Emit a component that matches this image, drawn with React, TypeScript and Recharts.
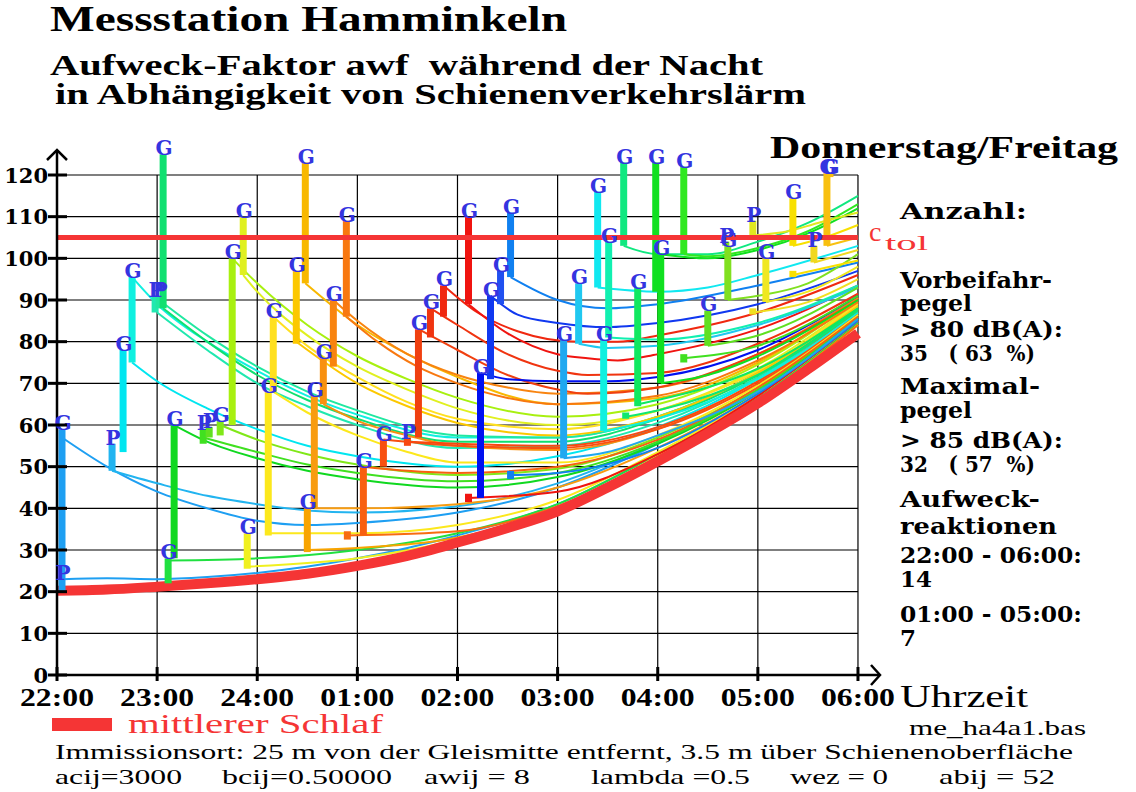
import React from "react";
import { ComposedChart, Line, Scatter, XAxis, YAxis } from "recharts";

// time axis: hours after 22:00
const hourTicks = [0, 1, 2, 3, 4, 5, 6, 7, 8];
const hourLabels = ["22:00", "23:00", "24:00", "01:00", "02:00", "03:00", "04:00", "05:00", "06:00"];
const yTicks = [0, 10, 20, 30, 40, 50, 60, 70, 80, 90, 100, 110, 120];
const gridLevels = [10, 20, 30, 40, 50, 60, 70, 80, 90, 100, 110, 120];
const cTol = 105;

// mittlerer Schlaf (thick red curve)
const meanSleep: [number, number][] = [
  [0, 20.2], [0.5, 20.5], [1, 21.2], [1.5, 22], [2, 23], [2.5, 24.3], [3, 26.2], [3.5, 28.6],
  [4, 31.8], [4.5, 35.3], [5, 39.3], [5.5, 45], [6, 51.3], [6.5, 58], [7, 65.2], [7.5, 73.4], [8, 82],
];

// events: [time, awf before, awf after, label]
const events: [number, number, number, string][] = [
  [0.05, 20, 23, "P"], [0.05, 23, 59, "G"], [0.55, 49, 55.5, "P"], [0.66, 53.5, 78, "G"],
  [0.75, 75, 95.5, "G"], [0.98, 87, 91, "P"], [1.02, 88, 91, "P"], [1.06, 88, 125, "G"],
  [1.11, 22, 28, "G"], [1.17, 28, 60, "G"], [1.46, 55.5, 59, "P"], [1.52, 57, 59.5, "P"],
  [1.63, 57.5, 61, "G"], [1.75, 60, 100, "G"], [1.86, 96, 110, "G"], [1.9, 25.5, 34, "G"],
  [2.11, 33.5, 68, "G"], [2.16, 68, 86, "G"], [2.39, 79.5, 97, "G"], [2.48, 94, 123, "G"],
  [2.5, 29.5, 40, "G"], [2.57, 40, 67, "G"], [2.66, 65, 76, "G"], [2.76, 74, 90, "G"],
  [2.89, 86, 109, "G"], [2.9, 32.5, 34.5, ""], [3.06, 33.5, 50, "G"], [3.26, 50, 56.5, "G"],
  [3.5, 55, 57, "P"], [3.61, 57, 83, "G"], [3.73, 81, 88, "G"], [3.86, 86, 93.5, "G"],
  [4.11, 89, 110, "G"], [4.11, 41.5, 43.5, ""], [4.23, 42.5, 72.5, "G"], [4.33, 71, 91, "G"],
  [4.43, 89, 97, "G"], [4.53, 95.5, 111, "G"], [4.53, 47, 49, ""], [5.06, 52, 80.5, "G"],
  [5.21, 79.5, 94, "G"], [5.4, 93, 116, "G"], [5.46, 58.5, 80.5, "G"], [5.51, 81, 104, "G"],
  [5.66, 103, 123, "G"], [5.68, 61.5, 63, ""], [5.8, 64.5, 93, "G"], [5.98, 92, 123, "G"],
  [6.03, 70, 101, "G"], [6.26, 75, 77, ""], [6.26, 101, 122, "G"], [6.5, 79, 87.5, "G"],
  [6.68, 103, 104, "P"], [6.7, 90, 103, "G"], [6.95, 105.5, 109, "P"], [6.95, 86.5, 88, ""],
  [7.08, 89.5, 100, "G"], [7.35, 95.5, 97, ""], [7.35, 103, 114.5, "G"], [7.56, 99, 103, "P"],
  [7.69, 103, 120.5, "G"], [7.72, 119.5, 120.5, "G"],
];

const eventColors = [
  "#1e9ff2", "#1e9ff2", "#22b4f0", "#00e6f0", "#10f0e0", "#20e8b0", "#20e8a0", "#10e070",
  "#20e040", "#10d820", "#40e020", "#60e020", "#80e818", "#a8f010", "#e0f020", "#f0f020",
  "#fce81c", "#ffe020", "#fcc800", "#f8b800", "#f8a400", "#f89c10", "#f89010", "#f88410",
  "#f87810", "#f86c10", "#f86010", "#f85010", "#f84810", "#f04010", "#f03410", "#f02810",
  "#f01410", "#f01410", "#0010f0", "#1038f0", "#2050f0", "#1080f0", "#1080f0", "#20a8f0",
  "#20c8f0", "#10e8f0", "#10f0e0", "#10f0b0", "#10e880", "#10e870", "#10e860", "#10e020",
  "#10e020", "#40e020", "#30e820", "#60e020", "#80e020", "#80e020", "#e0e820", "#f0e020",
  "#f0e820", "#f8e000", "#f8e000", "#f0d820", "#f8c010", "#f8c010",
];

// decay curves after each event: [event index, points]
const curves: [number, [number, number][]][] = [
  [0, [[0.05, 23], [0.5, 23.2], [1, 23], [1.5, 23.5], [2, 24.5], [3, 28], [4, 33.5], [5, 41], [6, 53], [7, 66.5], [8, 84.5]]],
  [1, [[0.05, 57], [0.5, 50], [1, 44], [1.5, 40], [2, 37], [2.5, 36], [3, 36.5], [4, 39], [5, 45], [6, 55.5], [7, 68.5], [8, 85.5]]],
  [2, [[0.55, 49], [1, 46], [1.5, 43], [2, 41], [2.5, 39.5], [3, 39], [4, 40.5], [5, 46], [6, 56], [7, 69], [8, 86]]],
  [3, [[0.75, 75], [1, 70.5], [1.5, 64], [2, 59], [2.5, 55], [3, 52.5], [4, 50], [5, 52.5], [6, 59.5], [7, 71], [8, 87]]],
  [4, [[0.75, 95.5], [1, 89], [1.5, 80], [2, 73], [2.5, 67], [3, 62.5], [4, 57], [5, 57], [6, 62], [7, 72.5], [8, 88]]],
  [5, [[1.0, 87], [1.5, 78], [2, 70], [2.5, 64.5], [3, 60], [4, 54.5], [5, 55], [6, 60.5], [7, 71.5], [8, 87.5]]],
  [6, [[1.02, 90], [1.5, 81.5], [2, 74], [2.5, 68], [3, 63.5], [4, 57.5], [5, 57], [6, 62], [7, 72.5], [8, 88.5]]],
  [7, [[1.06, 88], [1.5, 80], [2, 72], [2.5, 66], [3, 61.5], [4, 56], [5, 56], [6, 61.5], [7, 72], [8, 88]]],
  [8, [[1.11, 27.5], [2, 28], [3, 30], [4, 34], [5, 41], [6, 53], [7, 66.5], [8, 84.5]]],
  [9, [[1.17, 60], [1.5, 56], [2, 52], [2.5, 49], [3, 47], [4, 45], [5, 47.5], [6, 55.5], [7, 68], [8, 85.5]]],
  [10, [[1.46, 57], [2, 53.5], [2.5, 50.5], [3, 48.5], [4, 46.5], [5, 48.5], [6, 56], [7, 68.5], [8, 86]]],
  [12, [[1.63, 60], [2, 56.5], [2.5, 53], [3, 50.5], [4, 48], [5, 49.5], [6, 57], [7, 69], [8, 86.5]]],
  [13, [[1.75, 100], [2, 94], [2.5, 84], [3, 76.5], [3.5, 71], [4, 66.5], [5, 62], [6, 65], [7, 74.5], [8, 90]]],
  [14, [[1.86, 96], [2, 92], [2.5, 81.5], [3, 74], [3.5, 68.5], [4, 64], [5, 60], [6, 63.5], [7, 73.5], [8, 89.5]]],
  [15, [[1.9, 26], [3, 28], [4, 32.5], [5, 40], [6, 52.5], [7, 66], [8, 84]]],
  [16, [[2.11, 34], [3, 34], [4, 36], [5, 42], [6, 53.5], [7, 67], [8, 85]]],
  [16, [[2.16, 68], [2.5, 63], [3, 57.5], [3.5, 53.5], [4, 51], [5, 51], [6, 57.5], [7, 69.5], [8, 86.5]]],
  [17, [[2.16, 86], [2.5, 79], [3, 71.5], [3.5, 65.5], [4, 61.5], [5, 59], [6, 63.5], [7, 73], [8, 89]]],
  [18, [[2.39, 80], [3, 70], [3.5, 64.5], [4, 60.5], [5, 57.5], [6, 62], [7, 72.5], [8, 88.5]]],
  [19, [[2.48, 94], [3, 84], [3.5, 77], [4, 71.5], [5, 65], [6, 66.5], [7, 75], [8, 90.5]]],
  [20, [[2.5, 30], [3, 30.5], [4, 33], [5, 40], [6, 52], [7, 66], [8, 84]]],
  [21, [[2.57, 40], [3, 40], [4, 41], [5, 45], [6, 54.5], [7, 67.5], [8, 85]]],
  [22, [[2.66, 65], [3, 61], [3.5, 57.5], [4, 55], [5, 54], [6, 59], [7, 70.5], [8, 87]]],
  [23, [[2.76, 90], [3, 85], [3.5, 77], [4, 72], [4.5, 69], [5, 67.5], [6, 69], [7, 77], [8, 90.5]]],
  [24, [[2.89, 86], [3.2, 80], [3.6, 74], [4, 70], [4.5, 66.5], [5, 65], [6, 67], [7, 75.5], [8, 89.5]]],
  [25, [[2.9, 33.5], [4, 34.5], [5, 40.5], [6, 52], [7, 66], [8, 84]]],
  [26, [[3.06, 50], [3.5, 49], [4, 48.5], [5, 50], [6, 56.5], [7, 69], [8, 86]]],
  [27, [[3.26, 56.5], [4, 55], [5, 54.5], [6, 59], [7, 70], [8, 87]]],
  [28, [[3.5, 56], [4, 55.5], [5, 55], [6, 59.5], [7, 70.5], [8, 87.5]]],
  [29, [[3.61, 83], [4, 78], [4.5, 72], [5, 68.5], [5.3, 67.5], [6, 69], [7, 77], [8, 90]]],
  [30, [[3.73, 88], [4, 84], [4.5, 77], [5, 73], [5.3, 72], [6, 72.5], [7, 79.5], [8, 91.5]]],
  [31, [[3.86, 93.5], [4.2, 87], [4.6, 82.5], [5.2, 80], [5.6, 80], [6, 81.5], [7, 87], [8, 96]]],
  [32, [[4.11, 89], [4.5, 82], [5, 77], [5.3, 76], [5.6, 75.5], [6, 77], [7, 83], [8, 93.5]]],
  [33, [[4.11, 42.5], [5, 44], [6, 53], [7, 67], [8, 85]]],
  [34, [[4.23, 72.5], [4.5, 71], [5, 70.5], [5.5, 70.5], [6, 71.5], [7, 78], [8, 91]]],
  [35, [[4.33, 91], [4.6, 86.5], [5, 84.5], [5.5, 83.5], [6, 84.5], [7, 89], [8, 97]]],
  [37, [[4.53, 95.5], [5, 90], [5.5, 88], [6, 89], [7, 93.5], [8, 99]]],
  [38, [[4.53, 48], [5, 48.5], [6, 54.5], [7, 67.5], [8, 85]]],
  [39, [[5.06, 52], [5.5, 53.5], [6, 57.5], [7, 68], [8, 85.5]]],
  [40, [[5.21, 79.5], [5.5, 78.5], [6, 79], [7, 84], [8, 93]]],
  [41, [[5.4, 93], [6, 92], [6.5, 93], [7, 96], [8, 103]]],
  [42, [[5.46, 58.5], [6, 61.5], [7, 71], [8, 87]]],
  [43, [[5.51, 81], [6, 80.5], [7, 84.5], [8, 93.5]]],
  [44, [[5.66, 103], [6, 101], [6.5, 101], [7, 104], [7.5, 108.5], [8, 115]]],
  [45, [[5.68, 62], [6, 63.5], [7, 72], [8, 87.5]]],
  [46, [[5.8, 65], [6, 66], [7, 73.5], [8, 88]]],
  [48, [[6.03, 70], [6.5, 72], [7, 76.5], [8, 90]]],
  [48, [[6.03, 101], [6.5, 100], [7, 102], [7.5, 106], [8, 112]]],
  [49, [[6.26, 76], [7, 79], [8, 91]]],
  [50, [[6.26, 101], [6.5, 100.5], [7, 102.5], [7.5, 106.5], [8, 113]]],
  [51, [[6.5, 79], [7, 81.5], [8, 93]]],
  [53, [[6.7, 90], [7, 91], [7.5, 94], [8, 101]]],
  [54, [[6.95, 105.5], [7.3, 106.5], [7.6, 108.5], [8, 111]]],
  [55, [[6.95, 87], [7.5, 89.5], [8, 95]]],
  [56, [[7.08, 89.5], [7.5, 92], [8, 98]]],
  [57, [[7.35, 96], [8, 99.5]]],
  [58, [[7.35, 103], [7.6, 104.5], [8, 108]]],
  [59, [[7.56, 99], [8, 102]]],
  [60, [[7.69, 103], [8, 105]]],
];

const toRows = (pts: [number, number][]) => pts.map(([t, v]) => ({ t, v }));

const SERIF = "'Liberation Serif', serif";
const BOLDSERIF = "'DejaVu Serif', serif";
const LABEL_BLUE = "#3434e0";
const RED = "#f53535";

const labelRows = events.filter((e) => e[3] !== "").map(([t, , hi, label]) => ({ t, v: hi, label }));
const arrowRows = [{ t: 8.22, v: 0, dir: "r" }, { t: 0, v: 126, dir: "u" }];

const XTick = ({ x, y, payload }: any) => (
  <g>
    <line x1={x} x2={x} y1={y - 8} y2={y + 6} stroke="#000" strokeWidth={3} />
    <text x={x} y={y + 31} textAnchor="middle" fontFamily={SERIF} fontWeight="bold" fontSize={25}
      textLength={74} lengthAdjust="spacingAndGlyphs" fill="#000">
      {hourLabels[hourTicks.indexOf(payload.value)]}
    </text>
  </g>
);

const YTick = ({ x, y, payload }: any) => (
  <g>
    <line x1={x - 9} x2={x + 10} y1={y} y2={y} stroke="#000" strokeWidth={3} />
    <text x={x - 9} y={y} dy="0.36em" textAnchor="end" fontFamily={BOLDSERIF} fontWeight="bold"
      fontSize={21} fill="#000">
      {payload.value}
    </text>
  </g>
);

const EventLabel = ({ cx, cy, payload }: any) => (
  <text x={cx + 1} y={cy + 1} textAnchor="middle" fontFamily={BOLDSERIF} fontWeight="bold" fontSize={20}
    fill={LABEL_BLUE}>
    {payload.label}
  </text>
);

const Arrow = ({ cx, cy, payload }: any) =>
  payload.dir === "r" ? (
    <path d={`M${cx - 9},${cy - 10} L${cx},${cy} L${cx - 9},${cy + 10}`} fill="none" stroke="#000" strokeWidth={2.5} />
  ) : (
    <path d={`M${cx - 10},${cy + 10} L${cx},${cy} L${cx + 10},${cy + 10}`} fill="none" stroke="#000" strokeWidth={2.5} />
  );

const rightPanel: [string, number][] = [
  ["Anzahl:", 219], ["Vorbeifahr-", 288], ["pegel", 311], ["> 80 dB(A):", 337], ["35   ( 63  %)", 361],
  ["Maximal-", 394], ["pegel", 418], ["> 85 dB(A):", 448], ["32   ( 57  %)", 472],
  ["Aufweck-", 507], ["reaktionen", 534], ["22:00 - 06:00:", 563], ["14", 587],
  ["01:00 - 05:00:", 622], ["7", 646],
];
const rightWidths = [127, 152, 72, 163, 135, 140, 72, 163, 135, 140, 157, 182, 32, 182, 16];

const bottomParams: [string, number, number][] = [
  ["acij=3000", 55, 127], ["bcij=0.50000", 222, 170], ["awij = 8", 424, 106],
  ["lambda =0.5", 591, 159], ["wez = 0", 790, 98], ["abij = 52", 939, 116],
];

export default function App() {
  return (
    <div style={{ position: "absolute", left: 0, top: 0, width: 1136, height: 792, background: "#fff" }}>
      <div style={{ position: "absolute", left: 0, top: 0 }}>
        <ComposedChart width={1136} height={792} margin={{ top: 150, right: 256, bottom: 87, left: 0 }}>
          <XAxis type="number" dataKey="t" domain={[0, 8.22]} ticks={hourTicks} height={30}
            axisLine={{ stroke: "#000", strokeWidth: 2.5 }} tickLine={false} tickSize={0} tickMargin={0}
            tick={<XTick />} interval={0} />
          <YAxis type="number" dataKey="v" domain={[0, 126]} ticks={yTicks} width={57}
            axisLine={{ stroke: "#000", strokeWidth: 2.5 }} tickLine={false} tickSize={0} tickMargin={0}
            tick={<YTick />} interval={0} />
          {gridLevels.map((lv) => (
            <Line key={`h${lv}`} data={[{ t: 0, v: lv }, { t: 8, v: lv }]} dataKey="v" stroke="#000"
              strokeWidth={1.2} dot={false} isAnimationActive={false} type="linear" />
          ))}
          {hourTicks.slice(1).map((h) => (
            <Line key={`v${h}`} data={[{ t: h, v: 0 }, { t: h, v: 120 }]} dataKey="v" stroke="#000"
              strokeWidth={1.2} dot={false} isAnimationActive={false} type="linear" />
          ))}
          {curves.map(([ei, pts], i) => (
            <Line key={`c${i}`} data={toRows(pts)} dataKey="v" stroke={eventColors[ei]} strokeWidth={2}
              dot={false} isAnimationActive={false} type="monotone" />
          ))}
          <Line data={toRows(meanSleep)} dataKey="v" stroke={RED} strokeWidth={10} dot={false}
            isAnimationActive={false} type="monotone" />
          {events.map(([t, lo, hi], i) => (
            <Line key={`e${i}`} data={[{ t, v: lo }, { t, v: hi }]} dataKey="v" stroke={eventColors[i]}
              strokeWidth={7} strokeLinecap="butt" dot={false} isAnimationActive={false} type="linear" />
          ))}
          <Line data={[{ t: 0, v: cTol }, { t: 8, v: cTol }]} dataKey="v" stroke={RED} strokeWidth={5}
            dot={false} isAnimationActive={false} type="linear" />
          <Scatter data={labelRows} dataKey="v" shape={<EventLabel />} isAnimationActive={false} />
          <Scatter data={arrowRows} dataKey="v" shape={<Arrow />} isAnimationActive={false} />
        </ComposedChart>
      </div>
      <svg width={1136} height={792} style={{ position: "absolute", left: 0, top: 0, pointerEvents: "none" }}>
        <g fontFamily={SERIF} fontWeight="bold" fill="#000">
          <text x={50} y={31} fontSize={36} textLength={517} lengthAdjust="spacingAndGlyphs">Messstation Hamminkeln</text>
          <text x={50} y={75} fontSize={29} textLength={713} lengthAdjust="spacingAndGlyphs" style={{ whiteSpace: "pre" }}>
            Aufweck-Faktor awf  während der Nacht
          </text>
          <text x={55} y={104} fontSize={29} textLength={751} lengthAdjust="spacingAndGlyphs">in Abhängigkeit von Schienenverkehrslärm</text>
          <text x={770} y={158} fontSize={31} textLength={348} lengthAdjust="spacingAndGlyphs">Donnerstag/Freitag</text>
        </g>
        <g fontFamily={BOLDSERIF} fontWeight="bold" fontSize={22} fill="#000">
          {rightPanel.map(([s, y], i) => (
            <text key={i} x={900} y={y} textLength={rightWidths[i]} lengthAdjust="spacingAndGlyphs" style={{ whiteSpace: "pre" }}>
              {s}
            </text>
          ))}
        </g>
        <text x={869} y={241} fontFamily={SERIF} fontSize={28} fill={RED}>c</text>
        <text x={885} y={250} fontFamily={SERIF} fontSize={22} fill={RED} textLength={43} lengthAdjust="spacingAndGlyphs">tol</text>
        <text x={900} y={707} fontFamily={SERIF} fontSize={32} fill="#000" textLength={128} lengthAdjust="spacingAndGlyphs">Uhrzeit</text>
        <rect x={52} y={718} width={60} height={13} fill={RED} />
        <text x={128} y={733} fontFamily={SERIF} fontSize={28} fill={RED} textLength={255} lengthAdjust="spacingAndGlyphs">mittlerer Schlaf</text>
        <text x={909} y={735} fontFamily={SERIF} fontSize={21} fill="#000" textLength={177} lengthAdjust="spacingAndGlyphs">me_ha4a1.bas</text>
        <text x={55} y={759} fontFamily={SERIF} fontSize={21} fill="#000" textLength={1018} lengthAdjust="spacingAndGlyphs">
          Immissionsort: 25 m von der Gleismitte entfernt, 3.5 m über Schienenoberfläche
        </text>
        {bottomParams.map(([s, x, w]) => (
          <text key={s} x={x} y={784} fontFamily={SERIF} fontSize={21} fill="#000" textLength={w}
            lengthAdjust="spacingAndGlyphs" style={{ whiteSpace: "pre" }}>
            {s}
          </text>
        ))}
      </svg>
    </div>
  );
}
